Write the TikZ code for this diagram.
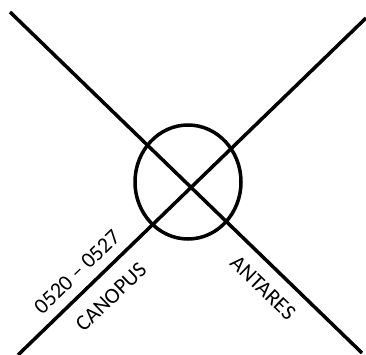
\documentclass[tikz,border=0pt]{standalone}
\usepackage{fontspec}
\setmainfont{Carlito}
\usetikzlibrary{positioning}

\begin{document}
\begin{tikzpicture}[
    % Global Styles
    x=1pt,
    y=-1pt,
    % Line Styles
    bearing/.style={
        line width=3.5pt,
        black
    },
    ring/.style={
        line width=3.5pt,
        black
    },
    % Label Styles
    starlabel/.style={
        font=\fontsize{22}{26}\selectfont,
        inner sep=0pt
    }
]
    \useasboundingbox (0,0) rectangle (366,355);

    % --- The Bearing Lines ---
    \coordinate (nw) at (10,12);
    \coordinate (se) at (362,353);
    \coordinate (ne) at (366,18);
    \coordinate (sw) at (18,355);
    \coordinate (fix) at (188,182);

    \draw[bearing] (nw) -- (se);
    \draw[bearing] (sw) -- (ne);

    % --- The Fix Circle ---
    \draw[ring] (fix) ellipse [x radius=53, y radius=57];

    % --- Labels ---
    \node[starlabel, rotate=44] (time) at (77,272) {0520 -- 0527};
    \node[starlabel, rotate=44] (canopus) at (111,297) {CANOPUS};
    \node[starlabel, rotate=-44] (antares) at (263,288) {ANTARES};

\end{tikzpicture}
\end{document}
